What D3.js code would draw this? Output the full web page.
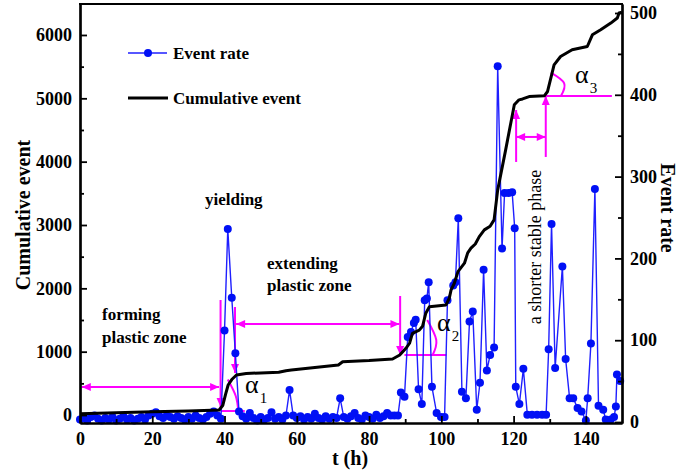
<!DOCTYPE html>
<html>
<head>
<meta charset="utf-8">
<script src="https://cdn.jsdelivr.net/npm/d3@7"></script>
<style>
  body { margin: 0; background: #fff; }
  svg { display: block; }
  text { font-family: "Liberation Serif", "Times New Roman", serif; }
</style>
</head>
<body>
<div id="chart"></div>
<script>
// event rate (right axis)
const rateT = [0,1,2,3,4,5,6,7,8,9,10,11,12,13,14,15,16,17,18,19,20,21,22,23,24,25,26,27,28,29,30,31,32,33,34,35,36,37,38,39,
    40,40.9,42,43,44,45,46,47,48,49,50,51,52,53,54,55,56,57,58,59,60,61,62,63,64,65,66,67,68,69,70,71,72,73,74,75,76,77,78,79,80,81,82,83,84,85,86,87,88,
    88.8,89.8,90.7,91.6,92.4,92.9,93.7,94.6,95.4,96,96.5,97.4,98.7,99.9,100.9,101.7,103.3,103.9,104.7,105.7,106.8,107.8,108.7,109.8,110.7,111.7,112.6,113.5,114.6,
    115.6,116.8,117.5,118.6,119.6,120.3,120.6,121.6,122.7,123.8,125.1,126.5,127.9,129,129.7,130.5,131.5,133.5,134.4,135.5,136.5,137.7,138.8,140,140.5,141.4,142.5,
    143.5,144.8,145.5,146.9,147.8,148.3,148.6,149.5];
const rateV = [3,5,2,6,8,4,2,5,3,6,2,4,7,3,5,2,4,6,3,8,10,12,7,5,8,6,4,7,5,3,6,4,8,5,3,6,10,13,8,4,
    112,236,152,84,13,7,4,11,5,2,6,3,5,12,4,6,3,8,39,8,5,7,3,6,4,10,5,3,7,4,6,5,29,6,4,7,11,5,3,8,6,4,9,5,7,11,8,8,8,
    36,31,104,110,121,125,40,22,149,151,171,43,11,6,6,149,167,171,249,37,29,123,135,15,48,186,63,82,91,
    435,212,280,280,281,237,43,22,65,9,9,9,9,9,89,242,66,190,77,29,29,17,13,2,29,96,285,
    20,15,3,3,6,19,58,50];

// cumulative event (left axis)
const cumT = [0,10,20,30,38.5,39.5,40.3,41,42,43.3,46,50,55,57,58.5,65,71.5,72.7,80,86.5,88.5,90.2,91.2,92,93.9,94.8,95.7,96.7,101.3,102.2,102.7,
    103.6,104.6,105.5,106.4,107.3,108.2,109.4,110.5,111.9,113.5,114.6,115.6,117.8,120.2,121.5,122.5,124.3,128.5,129.4,130.3,131.2,133,136.2,140.4,141.8,144.1,146.9,148.7,149.2,150];
const cumV = [20,35,50,65,80,150,330,474,560,632,655,665,675,700,710,750,790,842,860,885,948,1053,1133,1290,1340,1400,1607,1711,1738,1843,1975,
    2080,2264,2330,2397,2560,2634,2700,2817,2923,2980,3081,3555,4186,4897,4976,4990,5028,5040,5108,5318,5529,5660,5766,5818,6003,6082,6188,6267,6346,6360];

// tick labels
const xTicks = [0,20,40,60,80,100,120,140];
const leftTicks = [0,1000,2000,3000,4000,5000,6000];
const rightTicks = [0,100,200,300,400,500];

// annotations (t, cumulative event)
const hArrows = [[0.5,38.5,442],[43.2,88.4,1437],[120.7,128.9,4390]];
const downArrows = [[38.9,1816,126],[42.9,1705,663],[88.6,1879,947]];
const upArrows = [[120.7,3995,4816],[128.9,4074,5037]];
const baseLines = [[38.9,45.6,63],[89.8,101.4,947],[129,147.2,5037]];
const arcs = [
    [[40.9,560],[43.1,300],[43.8,63]],
    [[96.1,1500],[98.6,1184],[97.6,947]],
    [[130.3,5405],[134,5237],[133.1,5037]]
];

const w = 678, h = 470;
const x0 = 80, x1 = 622, yTop = 4, yBot = 423;

const x = d3.scaleLinear().domain([0, 150]).range([x0, x1]);
const yL = d3.scaleLinear().domain([-126, 6489]).range([yBot, yTop]);
const yR = d3.scaleLinear().domain([-1.2, 511]).range([yBot, yTop]);

const svg = d3.select("#chart").append("svg")
    .attr("width", w)
    .attr("height", h);

const blue = "#1f1fff", magenta = "#ff00ff";

// magenta annotations
const ann = svg.append("g")
    .attr("stroke", magenta)
    .attr("stroke-width", 2)
    .attr("fill", "none");

function head(px, py, ang) {
    const L = 9, W = 8;
    ann.append("path")
        .attr("d", `M0,0L${-L},${-W / 2}L${-L},${W / 2}Z`)
        .attr("transform", `translate(${px},${py}) rotate(${ang})`)
        .attr("fill", magenta)
        .attr("stroke", "none");
}

hArrows.forEach(a => {
    ann.append("line").attr("x1", x(a[0])).attr("x2", x(a[1])).attr("y1", yL(a[2])).attr("y2", yL(a[2]));
    head(x(a[0]), yL(a[2]), 180);
    head(x(a[1]), yL(a[2]), 0);
});
downArrows.forEach(a => {
    ann.append("line").attr("x1", x(a[0])).attr("x2", x(a[0])).attr("y1", yL(a[1])).attr("y2", yL(a[2]));
    head(x(a[0]), yL(a[2]), 90);
});
upArrows.forEach(a => {
    ann.append("line").attr("x1", x(a[0])).attr("x2", x(a[0])).attr("y1", yL(a[1])).attr("y2", yL(a[2]));
    head(x(a[0]), yL(a[2]), -90);
});
baseLines.forEach(a => {
    ann.append("line").attr("x1", x(a[0])).attr("x2", x(a[1])).attr("y1", yL(a[2])).attr("y2", yL(a[2]));
});
const arcLine = d3.line().x(d => x(d[0])).y(d => yL(d[1])).curve(d3.curveNatural);
arcs.forEach(a => ann.append("path").attr("d", arcLine(a)));

// event rate
const rateData = rateT.map((t, i) => ({ t: t, v: rateV[i] }));
svg.append("path")
    .datum(rateData)
    .attr("fill", "none")
    .attr("stroke", blue)
    .attr("stroke-width", 1.4)
    .attr("d", d3.line().x(d => x(d.t)).y(d => yR(d.v)));

svg.selectAll("circle.dot")
    .data(rateData)
    .enter()
    .append("circle")
    .attr("class", "dot")
    .attr("cx", d => x(d.t))
    .attr("cy", d => yR(d.v))
    .attr("r", 4)
    .attr("fill", "#0010f5");

// cumulative event
const cumData = cumT.map((t, i) => ({ t: t, v: cumV[i] }));
svg.append("path")
    .datum(cumData)
    .attr("fill", "none")
    .attr("stroke", "#000")
    .attr("stroke-width", 3)
    .attr("stroke-linejoin", "round")
    .attr("d", d3.line().x(d => x(d.t)).y(d => yL(d.v)));

// axes
function styleAxis(g) {
    g.selectAll(".domain").attr("stroke-width", 2.2);
    g.selectAll(".tick line").attr("stroke-width", 1.8);
    g.selectAll("text")
        .style("font-family", "'Liberation Serif', serif")
        .style("font-weight", "bold")
        .style("font-size", "18px")
        .attr("fill", "#000");
}
const fmt = d3.format("d");

svg.append("g")
    .attr("transform", `translate(0,${yBot})`)
    .call(d3.axisBottom(x).tickValues(d3.range(10, 150, 20)).tickSize(-4).tickSizeOuter(0).tickFormat(""))
    .call(styleAxis);
svg.append("g")
    .attr("transform", `translate(0,${yBot})`)
    .call(d3.axisBottom(x).tickValues(xTicks).tickSize(-7).tickSizeOuter(0).tickPadding(9).tickFormat(fmt))
    .call(styleAxis);

svg.append("g")
    .attr("transform", `translate(${x0},0)`)
    .call(d3.axisLeft(yL).tickValues(d3.range(500, 6500, 1000)).tickSize(-4).tickSizeOuter(0).tickFormat(""))
    .call(styleAxis);
svg.append("g")
    .attr("transform", `translate(${x0},0)`)
    .call(d3.axisLeft(yL).tickValues(leftTicks).tickSize(-7).tickSizeOuter(0).tickPadding(8).tickFormat(fmt))
    .call(styleAxis);

svg.append("g")
    .attr("transform", `translate(${x1},0)`)
    .call(d3.axisRight(yR).tickValues(d3.range(50, 500, 100)).tickSize(-4).tickSizeOuter(0).tickFormat(""))
    .call(styleAxis);
svg.append("g")
    .attr("transform", `translate(${x1},0)`)
    .call(d3.axisRight(yR).tickValues(rightTicks).tickSize(-7).tickSizeOuter(0).tickPadding(8).tickFormat(fmt))
    .call(styleAxis);

// top frame
svg.append("line")
    .attr("x1", x0 - 1).attr("x2", x1 + 1)
    .attr("y1", yTop).attr("y2", yTop)
    .attr("stroke", "#000").attr("stroke-width", 2.2);

// axis titles
svg.append("text")
    .attr("transform", "translate(30,215) rotate(-90)")
    .attr("text-anchor", "middle")
    .style("font-weight", "bold").style("font-size", "20px")
    .text("Cumulative event");
svg.append("text")
    .attr("transform", "translate(661,208) rotate(90)")
    .attr("text-anchor", "middle")
    .style("font-weight", "bold").style("font-size", "20px")
    .text("Event rate");
svg.append("text")
    .attr("x", 350).attr("y", 465)
    .attr("text-anchor", "middle")
    .style("font-weight", "bold").style("font-size", "20px")
    .text("t (h)");

// legend
const lg = svg.append("g");
lg.append("line").attr("x1", 128).attr("x2", 167).attr("y1", 53).attr("y2", 53)
    .attr("stroke", blue).attr("stroke-width", 1.4);
lg.append("circle").attr("cx", 148).attr("cy", 53).attr("r", 4).attr("fill", "#0010f5");
lg.append("text").attr("x", 173).attr("y", 59)
    .style("font-weight", "bold").style("font-size", "17px").text("Event rate");
lg.append("line").attr("x1", 128).attr("x2", 168).attr("y1", 98).attr("y2", 98)
    .attr("stroke", "#000").attr("stroke-width", 3);
lg.append("text").attr("x", 173).attr("y", 104)
    .style("font-weight", "bold").style("font-size", "17px").text("Cumulative event");

// annotation texts
function note(tx, ty, str, opts) {
    svg.append("text").attr("x", tx).attr("y", ty)
        .style("font-weight", opts.bold ? "bold" : "normal")
        .style("font-size", opts.size + "px")
        .text(str);
}
note(102, 320, "forming", { bold: true, size: 17 });
note(102, 343, "plastic zone", { bold: true, size: 17 });
note(205, 205, "yielding", { bold: true, size: 17 });
note(267, 269, "extending", { bold: true, size: 17 });
note(267, 291, "plastic zone", { bold: true, size: 17 });

svg.append("text")
    .attr("transform", "translate(541,247) rotate(-90)")
    .attr("text-anchor", "middle")
    .style("font-size", "18px")
    .text("a shorter stable phase");

const alphas = [[245, 393, "1"], [437, 331, "2"], [575, 83, "3"]];
alphas.forEach(a => {
    const t = svg.append("text").attr("x", a[0]).attr("y", a[1])
        .style("font-size", "26px").text("α");
    t.append("tspan").attr("dx", 1).attr("dy", 10).style("font-size", "15px").text(a[2]);
});
</script>
</body>
</html>
